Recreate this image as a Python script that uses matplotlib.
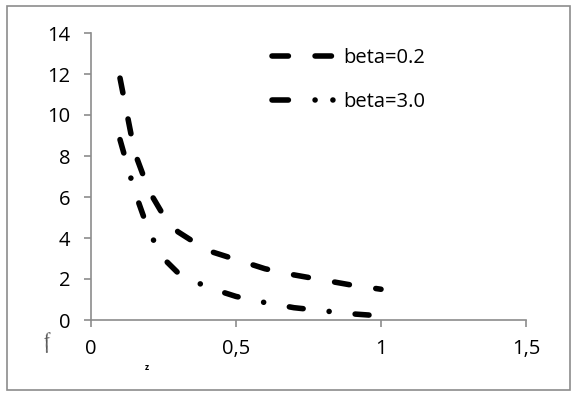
import matplotlib.pyplot as plt
from matplotlib.lines import Line2D
from matplotlib.patches import Rectangle

# data
z = [0.1, 0.15, 0.2, 0.25, 0.3, 0.4, 0.5, 0.6, 0.7, 0.8, 0.9, 1.0]
f_beta02 = [11.8, 8.2, 6.3, 5.1, 4.3, 3.4, 2.95, 2.5, 2.2, 1.95, 1.7, 1.5]
f_beta30 = [8.8, 6.3, 4.3, 3.0, 2.3, 1.6, 1.15, 0.85, 0.6, 0.45, 0.3, 0.2]
xticks = [0, 0.5, 1, 1.5]
xlabels = ['0', '0,5', '1', '1,5']
yticks = list(range(0, 15, 2))

plt.rcParams['font.family'] = ['Open Sans', 'DejaVu Sans']

fig = plt.figure(figsize=(5.76, 3.98), dpi=100)
fig.patches.append(Rectangle((7 / 576, 8 / 398), 563 / 576, 384 / 398,
                             transform=fig.transFigure, fill=False,
                             edgecolor='#8c8c8c', linewidth=1.2))

ax = fig.add_axes([91 / 576, 78 / 398, 435 / 576, 287 / 398])

lw = 4.0
l1, = ax.plot(z, f_beta02, color='black', lw=lw, dash_capstyle='round')
l1.set_dashes([2.7, 4.8])
l2, = ax.plot(z, f_beta30, color='black', lw=lw, dash_capstyle='round')
l2.set_dashes([2.5, 4.7, 0.01, 4.7])

ax.set_xlim(0, 1.5)
ax.set_ylim(0, 14)
ax.set_xticks(xticks)
ax.set_xticklabels(xlabels)
ax.set_yticks(yticks)

for s in ['top', 'right']:
    ax.spines[s].set_visible(False)
for s in ['left', 'bottom']:
    ax.spines[s].set_color('#8c8c8c')
    ax.spines[s].set_linewidth(1.2)
ax.tick_params(colors='#8c8c8c', labelcolor='black', labelsize=14.5,
               length=5, width=1.2)
ax.tick_params(axis='x', pad=9)
ax.tick_params(axis='y', pad=10)

# legend handles drawn like the original's legend
h1 = Line2D([], [], color='black', lw=lw, dash_capstyle='round')
h1.set_dashes([2.95, 4.8])
h2 = Line2D([], [], color='black', lw=lw, dash_capstyle='round')
h2.set_dashes([2.95, 4.8, 0.01, 3.2, 0.01, 10])
ax.legend([h1, h2], ['beta=0.2', 'beta=3.0'], loc='upper left',
          bbox_to_anchor=(0.375, 1.01), frameon=False,
          fontsize=14.5, handlelength=3.1, labelspacing=1.2,
          handletextpad=0.45)

fig.text(47 / 576, 1 - 343 / 398, 'f', fontstyle='italic', fontsize=15,
         color='#555555', rotation=10, ha='center', va='center',
         family='Liberation Serif')
fig.text(147 / 576, 1 - 368 / 398, 'z', fontsize=6, color='black',
         ha='center', va='center', fontweight='bold')

fig.savefig('out.png', dpi=100)
